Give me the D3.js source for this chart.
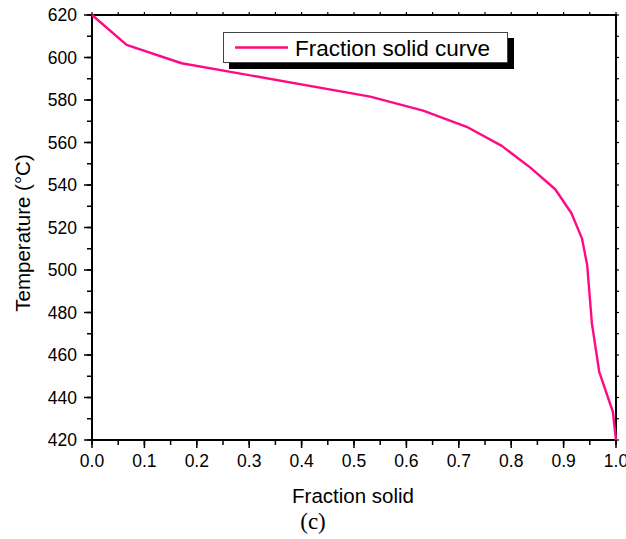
<!DOCTYPE html>
<html><head><meta charset="utf-8">
<script src="https://cdn.jsdelivr.net/npm/d3@7/dist/d3.min.js"></script>
<style>body{margin:0;background:#fff}svg{display:block}</style>
</head><body>
<svg id="c" width="626" height="539"></svg>
<script>
const fractionSolid = [0, 0.066, 0.171, 0.531, 0.632, 0.715, 0.782, 0.836, 0.884, 0.915, 0.935, 0.945, 0.954, 0.968, 0.994, 1.0];
const temperature   = [620, 605.9, 597.3, 581.6, 575.0, 567.4, 558.4, 548.3, 538.0, 526.7, 514.9, 502.4, 474.9, 452.1, 433.3, 420];
const xTicks = [0, 0.1, 0.2, 0.3, 0.4, 0.5, 0.6, 0.7, 0.8, 0.9, 1.0];
const yTicks = [420, 440, 460, 480, 500, 520, 540, 560, 580, 600, 620];
const seriesName = "Fraction solid curve";
const xTitle = "Fraction solid";
const yTitle = "Temperature (°C)";
const caption = "(c)";

const svg = d3.select("#c");
const L = 92, R = 616, T = 15, B = 440;
const x = d3.scaleLinear().domain([0, 1]).range([L, R]);
const y = d3.scaleLinear().domain([420, 620]).range([B, T]);
const font = "'Liberation Sans', Arial, sans-serif";
const xMinor = d3.range(0, 1.0001, 0.05);
const yMinor = d3.range(420, 620.01, 10);

const g = svg.append("g");
g.selectAll(".xm").data(xMinor).join("line")
  .attr("x1", d => x(d)).attr("x2", d => x(d)).attr("y1", B).attr("y2", B + 5)
  .attr("stroke", "#000").attr("stroke-width", 1.5);
g.selectAll(".ym").data(yMinor).join("line")
  .attr("x1", L - 5).attr("x2", L).attr("y1", d => y(d)).attr("y2", d => y(d))
  .attr("stroke", "#000").attr("stroke-width", 1.5);
g.selectAll(".xM").data(xTicks).join("line")
  .attr("x1", d => x(d)).attr("x2", d => x(d)).attr("y1", B).attr("y2", B + 8)
  .attr("stroke", "#000").attr("stroke-width", 1.5);
g.selectAll(".yM").data(yTicks).join("line")
  .attr("x1", L - 8).attr("x2", L).attr("y1", d => y(d)).attr("y2", d => y(d))
  .attr("stroke", "#000").attr("stroke-width", 1.5);
g.selectAll(".xt").data(xMinor).join("line")
  .attr("x1", d => x(d)).attr("x2", d => x(d)).attr("y1", T).attr("y2", T - 3)
  .attr("stroke", "#000").attr("stroke-width", 1.2);
g.selectAll(".yr").data(yMinor).join("line")
  .attr("x1", R).attr("x2", R + 3).attr("y1", d => y(d)).attr("y2", d => y(d))
  .attr("stroke", "#000").attr("stroke-width", 1.2);

svg.append("rect").attr("x", L).attr("y", T).attr("width", R - L).attr("height", B - T)
  .attr("fill", "none").attr("stroke", "#000").attr("stroke-width", 2);

svg.selectAll(".xl").data(xTicks).join("text")
  .attr("x", d => x(d)).attr("y", 467).attr("text-anchor", "middle")
  .attr("font-family", font).attr("font-size", 17.5).text(d => d.toFixed(1));
svg.selectAll(".yl").data(yTicks).join("text")
  .attr("x", 77).attr("y", d => y(d) + 6).attr("text-anchor", "end")
  .attr("font-family", font).attr("font-size", 17.5).text(d => d);

svg.append("text").attr("x", 353).attr("y", 503).attr("text-anchor", "middle")
  .attr("font-family", font).attr("font-size", 20.5).text(xTitle);
svg.append("text").attr("transform", "translate(30,233) rotate(-90)").attr("text-anchor", "middle")
  .attr("font-family", font).attr("font-size", 20.5).text(yTitle);
svg.append("text").attr("x", 313).attr("y", 529).attr("text-anchor", "middle")
  .attr("font-family", "'Liberation Serif', 'Times New Roman', serif").attr("font-size", 23).text(caption);

const line = d3.line().x((d, i) => x(fractionSolid[i])).y(d => y(d));
svg.append("path").datum(temperature).attr("d", line)
  .attr("fill", "none").attr("stroke", "#ff0a82").attr("stroke-width", 2.4).attr("stroke-linejoin", "round");

const lg = svg.append("g");
lg.append("rect").attr("x", 229).attr("y", 38).attr("width", 285).attr("height", 31).attr("fill", "#000");
lg.append("rect").attr("x", 223.5).attr("y", 32.5).attr("width", 284).attr("height", 30)
  .attr("fill", "#fff").attr("stroke", "#444").attr("stroke-width", 1);
lg.append("line").attr("x1", 235).attr("x2", 288).attr("y1", 47.5).attr("y2", 47.5)
  .attr("stroke", "#ff0a82").attr("stroke-width", 2.4);
lg.append("text").attr("x", 295).attr("y", 55.5).attr("font-family", font).attr("font-size", 22.5).text(seriesName);
</script>
</body></html>
